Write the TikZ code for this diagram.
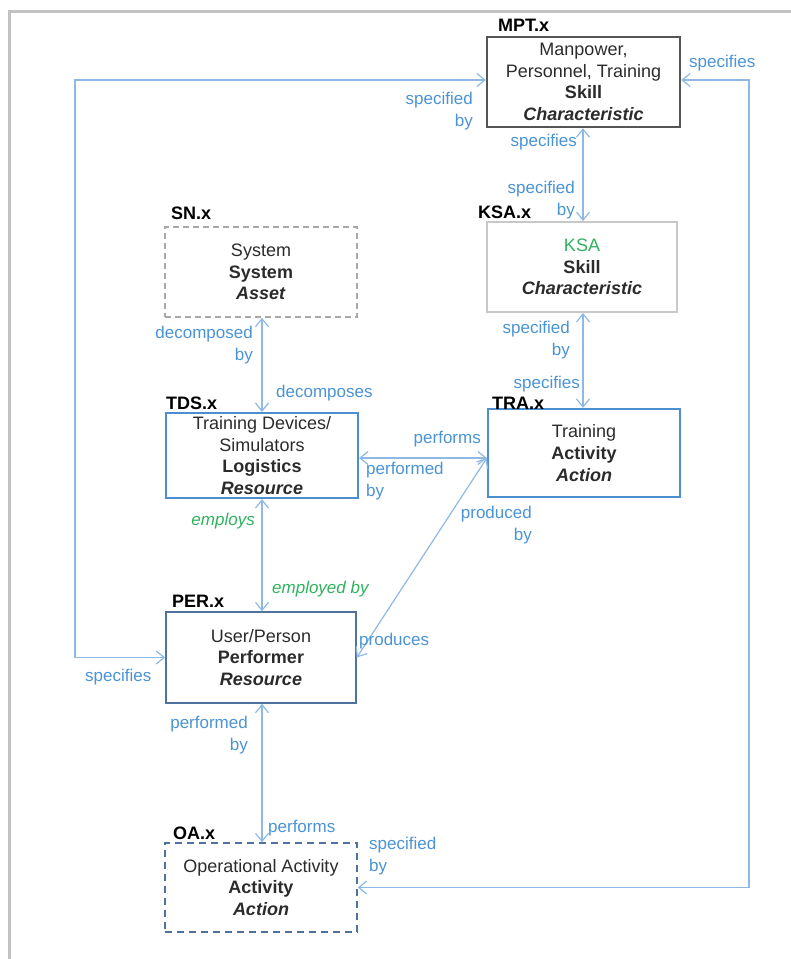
\documentclass[tikz,border=0pt]{standalone}
\usepackage{fontspec}
\setmainfont{Liberation Sans}
\usetikzlibrary{arrows.meta}

\definecolor{linkblue}{HTML}{8DB9E4}
\definecolor{labelblue}{HTML}{4A93D6}
\definecolor{kgreen}{HTML}{2EB25C}
\definecolor{boxblue}{HTML}{4B8FD1}
\definecolor{steel}{HTML}{4F739C}
\definecolor{framegray}{HTML}{C2C2C2}
\definecolor{boxtext}{HTML}{2B2B2B}
\definecolor{mptgray}{HTML}{555555}
\definecolor{ksagray}{HTML}{C8C8C8}
\definecolor{sngray}{HTML}{A8A8A8}

\begin{document}
\begin{tikzpicture}[x=1pt,y=-1pt,
  box/.style={rectangle, minimum width=192pt, minimum height=90pt, align=center,
    inner sep=0pt, font=\fontsize{18}{21.7}\selectfont, text=boxtext},
  tag/.style={anchor=west, inner sep=0pt, font=\fontsize{18}{21}\selectfont\bfseries, text=black},
  lab/.style={inner sep=0pt, font=\fontsize{17}{21.5}\selectfont, text=labelblue},
  glab/.style={inner sep=0pt, font=\fontsize{17}{21.5}\selectfont\itshape, text=kgreen},
  link/.style={draw=linkblue, line width=1.2pt,
    {Straight Barb[length=8pt,width=13pt]}-{Straight Barb[length=8pt,width=13pt]}},
]
\useasboundingbox (0,0) rectangle (791,959);

% page frame
\draw[framegray, line width=3pt] (9.5,959) -- (9.5,11) -- (791,11);

% boxes
\node[box, draw=mptgray, line width=2.4pt, minimum width=193pt] (mpt) at (583.5,82)
  {Manpower,\\Personnel, Training\\\textbf{Skill}\\\textbf{\textit{Characteristic}}};
\node[box, draw=ksagray, line width=2pt, minimum width=190pt] (ksa) at (582,267)
  {\textcolor{kgreen}{KSA}\\\textbf{Skill}\\\textbf{\textit{Characteristic}}};
\node[box, draw=sngray, line width=1.5pt, dash pattern=on 6pt off 4pt] (sn) at (261,272)
  {System\\\textbf{System}\\\textbf{\textit{Asset}}};
\node[box, draw=boxblue, line width=2.2pt, minimum height=85pt] (tds) at (262,455.5)
  {Training Devices/\\Simulators\\\textbf{Logistics}\\\textbf{\textit{Resource}}};
\node[box, draw=boxblue, line width=2.2pt, minimum height=88pt] (tra) at (584,453)
  {Training\\\textbf{Activity}\\\textbf{\textit{Action}}};
\node[box, draw=steel, line width=1.6pt, minimum width=190pt, minimum height=91pt] (per) at (261,657.5)
  {User/Person\\\textbf{Performer}\\\textbf{\textit{Resource}}};
\node[box, draw=steel, line width=1.6pt, dash pattern=on 7pt off 5pt, minimum height=89pt] (oa) at (261,887.5)
  {Operational Activity\\\textbf{Activity}\\\textbf{\textit{Action}}};

% box tags
\node[tag] (mpttag) at (498,25) {MPT.x};
\node[tag] (ksatag) at (478,212) {KSA.x};
\node[tag] (sntag) at (171,213) {SN.x};
\node[tag] (tdstag) at (166,403) {TDS.x};
\node[tag] (tratag) at (492,403) {TRA.x};
\node[tag] (pertag) at (172,601) {PER.x};
\node[tag] (oatag) at (173,833) {OA.x};

% guide coordinates for the connector routes
\coordinate (colA) at (583,0);
\coordinate (colB) at (262,0);
\coordinate (rowT) at (0,458);
\coordinate (lx) at (75,80);
\coordinate (rx) at (749,80);

% connectors
\draw[link] (colA |- mpt.south) -- (colA |- ksa.north);
\draw[link] (colA |- ksa.south) -- (colA |- tra.north);
\draw[link] (colB |- sn.south) -- (colB |- tds.north);
\draw[link] (colB |- tds.south) -- (colB |- per.north);
\draw[link] (colB |- per.south) -- (colB |- oa.north);
\draw[link] (tds.east |- rowT) -- (tra.west |- rowT);
\draw[link] (tra.west |- rowT) -- (per.east);
\draw[link] (mpt.west |- lx) -- (lx) |- (per.west);
\draw[link] (mpt.east |- rx) -- (rx) |- (oa.east);

% connector labels
\node[lab, anchor=east, align=right] (l1) at (473,111) {specified\\by};
\node[lab, anchor=west] (l2) at (689,63) {specifies};
\node[lab, anchor=east] (l3) at (577,142) {specifies};
\node[lab, anchor=east, align=right] (l4) at (575,200) {specified\\by};
\node[lab, anchor=east, align=right] (l5) at (570,340) {specified\\by};
\node[lab, anchor=east] (l6) at (580,384) {specifies};
\node[lab, anchor=east, align=right] (l7) at (253,345) {decomposed\\by};
\node[lab, anchor=west] (l8) at (276,393) {decomposes};
\node[lab, anchor=east] (l9) at (481,439) {performs};
\node[lab, anchor=west, align=left] (l10) at (366,481) {performed\\by};
\node[lab, anchor=east, align=right] (l11) at (532,525) {produced\\by};
\node[glab, anchor=east] (l12) at (255,521) {employs};
\node[glab, anchor=west] (l13) at (272,589) {employed by};
\node[lab, anchor=west] (l14) at (359,641) {produces};
\node[lab, anchor=west] (l15) at (85,677) {specifies};
\node[lab, anchor=east, align=right] (l16) at (248,735) {performed\\by};
\node[lab, anchor=west] (l17) at (268,828) {performs};
\node[lab, anchor=west, align=left] (l18) at (369,856) {specified\\by};
\end{tikzpicture}
\end{document}
